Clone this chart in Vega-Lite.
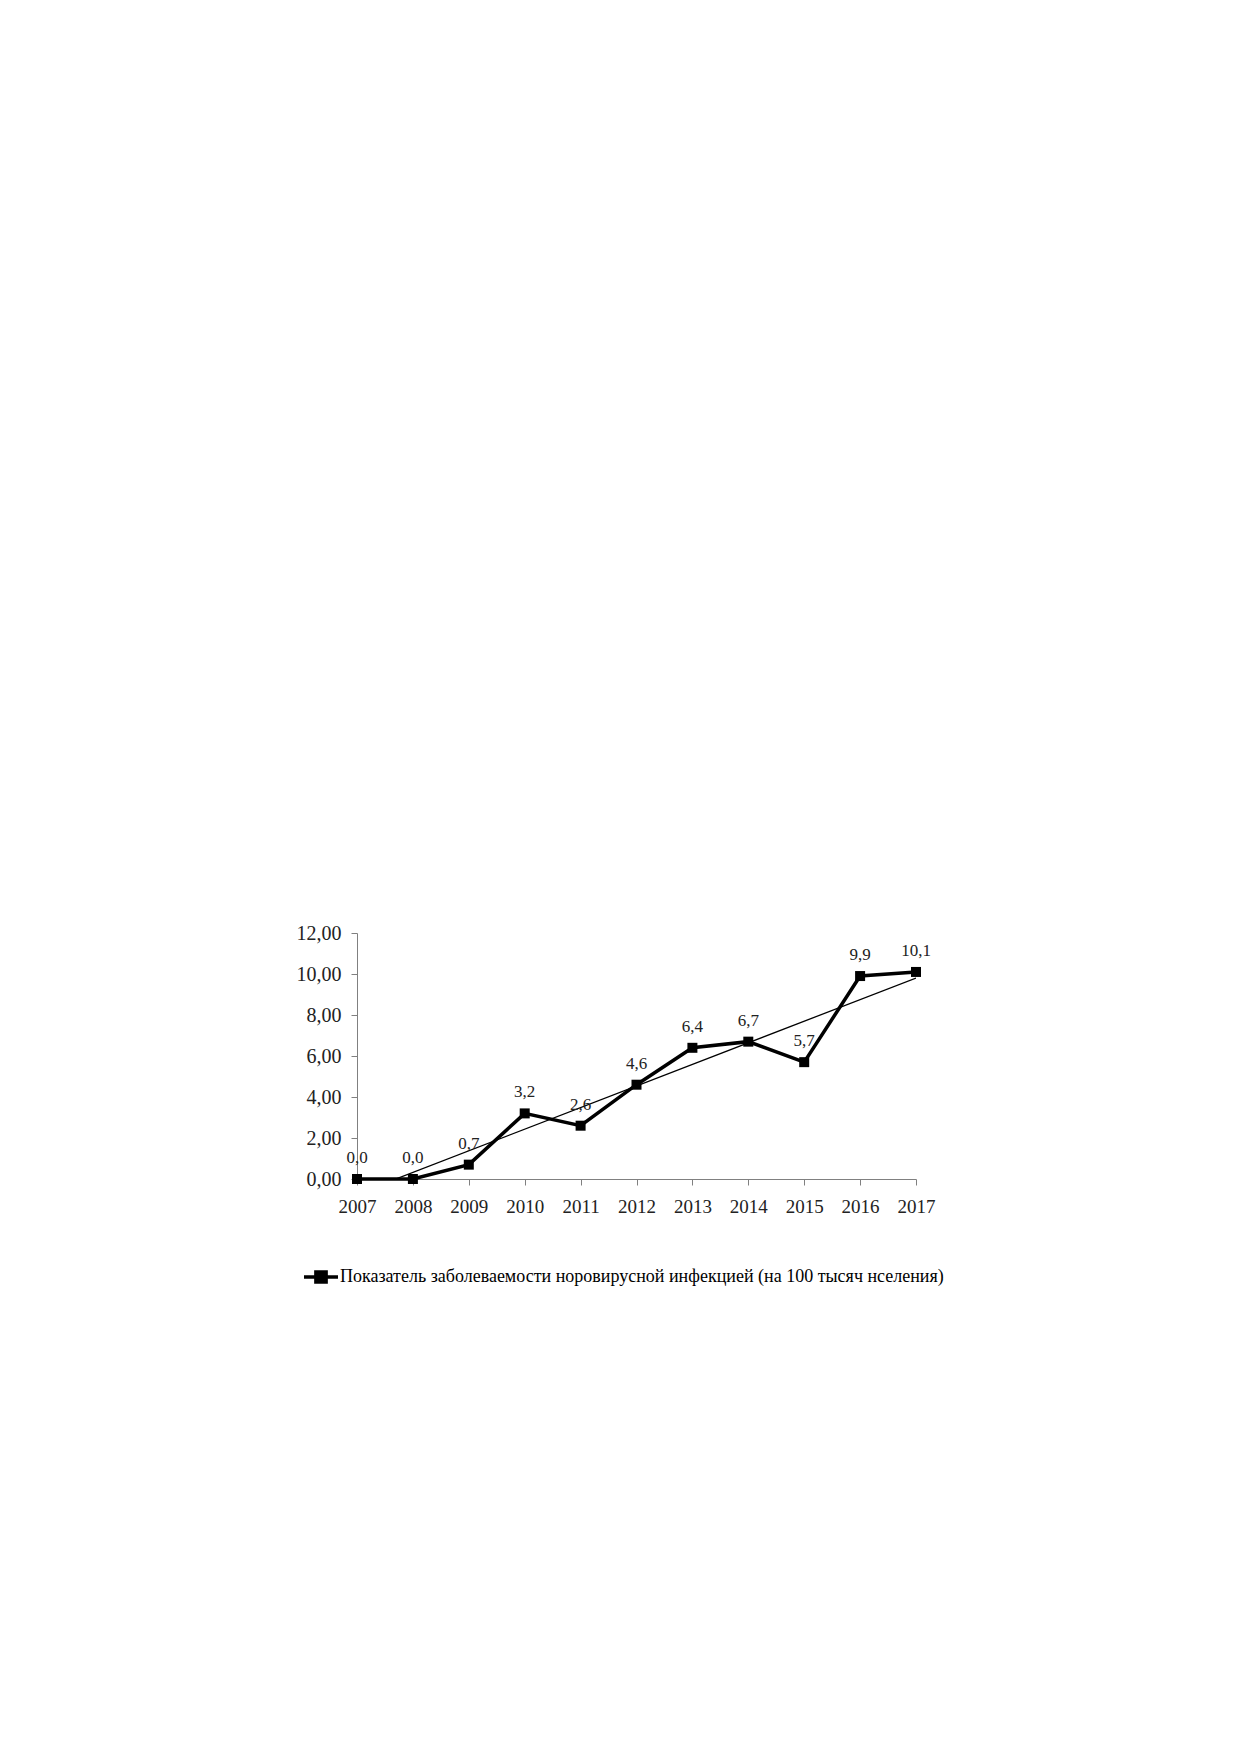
{
  "$schema": "https://vega.github.io/schema/vega-lite/v6.json",
  "width": 559,
  "height": 246,
  "autosize": {"type": "none"},
  "padding": {"left": 357, "top": 933, "right": 323, "bottom": 573},
  "background": "white",
  "config": {
    "locale": {"number": {"decimal": ",", "thousands": " ", "grouping": [3], "currency": ["", ""]}},
    "view": {"stroke": null},
    "font": "Liberation Serif"
  },
  "data": {
    "values": [
      {"year": 2007, "value": 0.0, "series": "Показатель заболеваемости норовирусной инфекцией (на 100 тысяч нселения)"},
      {"year": 2008, "value": 0.0, "series": "Показатель заболеваемости норовирусной инфекцией (на 100 тысяч нселения)"},
      {"year": 2009, "value": 0.7, "series": "Показатель заболеваемости норовирусной инфекцией (на 100 тысяч нселения)"},
      {"year": 2010, "value": 3.2, "series": "Показатель заболеваемости норовирусной инфекцией (на 100 тысяч нселения)"},
      {"year": 2011, "value": 2.6, "series": "Показатель заболеваемости норовирусной инфекцией (на 100 тысяч нселения)"},
      {"year": 2012, "value": 4.6, "series": "Показатель заболеваемости норовирусной инфекцией (на 100 тысяч нселения)"},
      {"year": 2013, "value": 6.4, "series": "Показатель заболеваемости норовирусной инфекцией (на 100 тысяч нселения)"},
      {"year": 2014, "value": 6.7, "series": "Показатель заболеваемости норовирусной инфекцией (на 100 тысяч нселения)"},
      {"year": 2015, "value": 5.7, "series": "Показатель заболеваемости норовирусной инфекцией (на 100 тысяч нселения)"},
      {"year": 2016, "value": 9.9, "series": "Показатель заболеваемости норовирусной инфекцией (на 100 тысяч нселения)"},
      {"year": 2017, "value": 10.1, "series": "Показатель заболеваемости норовирусной инфекцией (на 100 тысяч нселения)"}
    ]
  },
  "encoding": {
    "x": {
      "field": "year", "type": "quantitative",
      "scale": {"domain": [2007, 2017], "nice": false, "zero": false},
      "axis": {
        "title": null, "values": [2007, 2008, 2009, 2010, 2011, 2012, 2013, 2014, 2015, 2016, 2017],
        "format": "d", "grid": false, "domainColor": "#808080", "tickColor": "#808080",
        "tickSize": 6, "labelFontSize": 19, "labelColor": "#222222", "labelPadding": 12,
        "labelFont": "Liberation Serif", "labelFlush": false
      }
    },
    "y": {
      "field": "value", "type": "quantitative",
      "scale": {"domain": [0, 12], "nice": false},
      "axis": {
        "title": null, "values": [0, 2, 4, 6, 8, 10, 12], "format": ".2f", "grid": false,
        "domainColor": "#808080", "tickColor": "#808080", "tickSize": 6,
        "labelFontSize": 20, "labelColor": "#222222", "labelPadding": 10,
        "labelFont": "Liberation Serif"
      }
    }
  },
  "layer": [
    {
      "transform": [{"regression": "value", "on": "year"}],
      "mark": {"type": "line", "color": "black", "strokeWidth": 1.3, "clip": true},
      "encoding": {}
    },
    {
      "mark": {"type": "line", "strokeWidth": 3.5},
      "encoding": {
        "color": {
          "field": "series", "type": "nominal",
          "scale": {"range": ["black"]},
          "legend": {
            "title": null, "orient": "none", "legendX": -55, "legendY": 325,
            "symbolType": "M-1,0L1,0M-0.3,-0.3L0.3,-0.3L0.3,0.3L-0.3,0.3Z",
            "symbolSize": 1156, "symbolStrokeWidth": 3.5, "symbolFillColor": "black",
            "symbolStrokeColor": "black", "labelFontSize": 18, "labelFont": "Liberation Serif",
            "labelColor": "#000000", "labelLimit": 1000, "labelOffset": 0
          }
        }
      }
    },
    {
      "mark": {"type": "point", "shape": "square", "filled": true, "size": 100, "color": "black", "opacity": 1}
    },
    {
      "mark": {"type": "text", "dy": -21, "fontSize": 17, "font": "Liberation Serif", "color": "#222222", "baseline": "middle"},
      "encoding": {"text": {"field": "value", "type": "quantitative", "format": ".1f"}}
    }
  ]
}
